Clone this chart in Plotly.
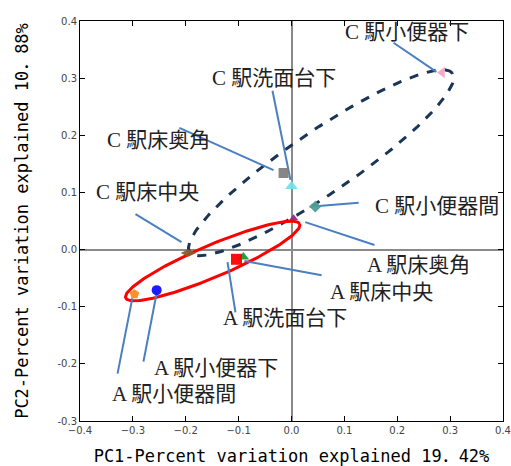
import numpy as np
import plotly.graph_objects as go

# ---- data ----
sample_names = ["C 駅小便器下", "C 駅洗面台下", "C 駅床奥角", "C 駅小便器間", "C 駅床中央",
                "A 駅床奥角", "A 駅床中央", "A 駅洗面台下", "A 駅小便器下", "A 駅小便器間"]
pc1 = [0.285, 0.000, -0.015, 0.045, -0.195, 0.004, -0.091, -0.104, -0.255, -0.297]
pc2 = [0.310, 0.111, 0.134, 0.075, -0.006, 0.055, -0.013, -0.017, -0.071, -0.078]

x_tickvals = [-0.4, -0.3, -0.2, -0.1, 0.0, 0.1, 0.2, 0.3, 0.4]
x_ticktext = ["−0.4", "−0.3", "−0.2", "−0.1", "0.0", "0.1", "0.2", "0.3", "0.4"]
y_tickvals = [-0.3, -0.2, -0.1, 0.0, 0.1, 0.2, 0.3, 0.4]
y_ticktext = ["-0.3", "-0.2", "-0.1", "0.0", "0.1", "0.2", "0.3", "0.4"]

x_title = "PC1-Percent variation explained 19．42%"
y_title = "PC2-Percent variation explained 10．88%"

# ---- styles / layout ----
marker_colors = ["#f5a3c7", "#6fe3ea", "#808080", "#4f9e98", "#8b5a2b",
                 "#8e2a8e", "#1f9a2e", "#ff0000", "#1010ff", "#ff8a1c"]
marker_symbols = ["triangle-left", "triangle-up", "square", "diamond", "diamond-wide",
                  "triangle-up", "triangle-up", "square", "circle", "pentagon"]
marker_sizes = [10, 11, 10, 9, 11, 8, 10, 11, 10, 10]

# label text centres (data units)
label_pos = [(0.219, 0.380), (-0.034, 0.301), (-0.251, 0.192), (0.276, 0.076), (-0.272, 0.101),
             (0.240, -0.027), (0.170, -0.075), (-0.013, -0.120), (-0.142, -0.208), (-0.223, -0.252)]
# leader lines: (near end, far end)
leaders = [((0.274, 0.311), (0.193, 0.362)),
           ((-0.002, 0.122), (-0.036, 0.278)),
           ((-0.034, 0.139), (-0.212, 0.213)),
           ((0.034, 0.075), (0.127, 0.082)),
           ((-0.208, 0.013), (-0.295, 0.062)),
           ((0.026, 0.048), (0.157, 0.008)),
           ((-0.089, -0.020), (0.057, -0.045)),
           ((-0.121, -0.022), (-0.106, -0.110)),
           ((-0.255, -0.076), (-0.280, -0.196)),
           ((-0.301, -0.085), (-0.329, -0.217))]

# ellipses: centre, major half-vector, minor half-vector
ellipses = [
    dict(c=(0.056, 0.152), u=(0.2486, 0.1562), v=(-0.0330, 0.0455), color="#1b3557", dash="dash"),
    dict(c=(-0.149, -0.020), u=(0.1645, 0.0648), v=(-0.0118, 0.0258), color="#ff0000", dash="solid"),
]

fig = go.Figure()

for e in ellipses:
    t = np.linspace(0, 2 * np.pi, 200)
    ex = e["c"][0] + np.cos(t) * e["u"][0] + np.sin(t) * e["v"][0]
    ey = e["c"][1] + np.cos(t) * e["u"][1] + np.sin(t) * e["v"][1]
    fig.add_trace(go.Scatter(x=ex, y=ey, mode="lines",
                             line=dict(color=e["color"], width=3, dash=e["dash"]),
                             hoverinfo="skip", showlegend=False))

for (n, f) in leaders:
    fig.add_trace(go.Scatter(x=[n[0], f[0]], y=[n[1], f[1]], mode="lines",
                             line=dict(color="#4a7fc1", width=2),
                             hoverinfo="skip", showlegend=False))

fig.add_trace(go.Scatter(x=pc1, y=pc2, mode="markers", text=sample_names,
                         marker=dict(color=marker_colors, symbol=marker_symbols,
                                     size=marker_sizes, opacity=0.95, line=dict(width=0)),
                         showlegend=False))

for name, (lx, ly) in zip(sample_names, label_pos):
    fig.add_annotation(x=lx, y=ly, text=name, showarrow=False,
                       font=dict(family="Liberation Serif, Noto Sans CJK JP", size=21, color="#222222"),
                       xanchor="center", yanchor="middle")

axis_common = dict(showgrid=False, zeroline=True, zerolinecolor="#8a8a8a", zerolinewidth=1.5,
                   showline=True, linecolor="black", linewidth=1, mirror="ticks",
                   ticks="inside", ticklen=5, tickcolor="black",
                   tickfont=dict(family="DejaVu Sans", size=10, color="#444444"))

fig.update_xaxes(range=[-0.4, 0.4], tickvals=x_tickvals, ticktext=x_ticktext,
                 title=dict(text=x_title, font=dict(family="DejaVu Sans Mono, Noto Sans CJK JP", size=17, color="black"),
                            standoff=15), **axis_common)
fig.update_yaxes(range=[-0.3, 0.4], tickvals=y_tickvals, ticktext=y_ticktext,
                 title=dict(text=y_title, font=dict(family="DejaVu Sans Mono, Noto Sans CJK JP", size=17, color="black"),
                            standoff=24), **axis_common)

fig.update_layout(width=511, height=466, margin=dict(l=80, r=8, t=21, b=45, autoexpand=False),
                  plot_bgcolor="white", paper_bgcolor="white")

fig.write_html("out.html", config={"displayModeBar": False},
               post_script="document.body.style.margin='0';document.body.style.overflow='hidden';")
